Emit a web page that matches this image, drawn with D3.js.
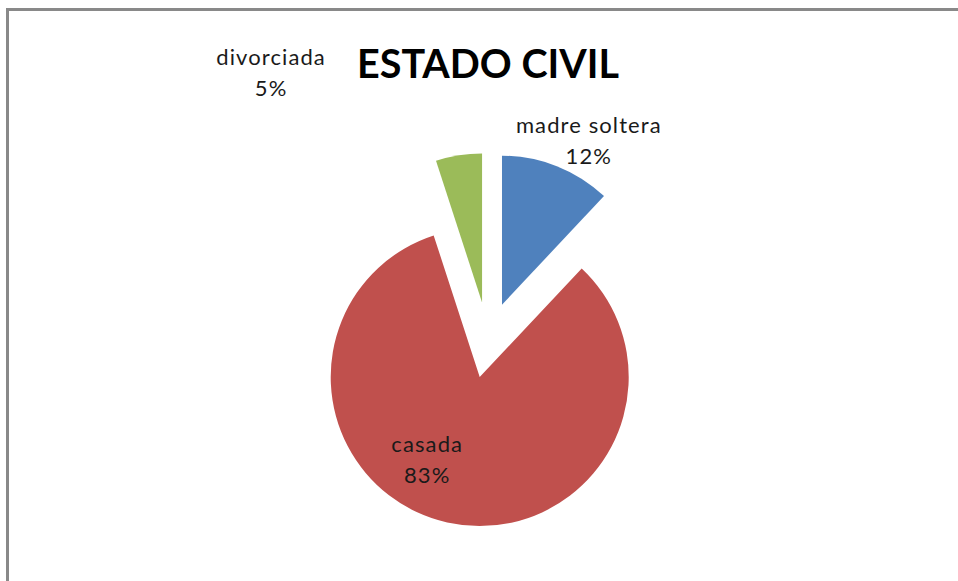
<!DOCTYPE html>
<html>
<head>
<meta charset="utf-8">
<script src="https://cdn.jsdelivr.net/npm/d3@7"></script>
<style>
  html, body { margin: 0; padding: 0; background: #fff; overflow: hidden; }
</style>
</head>
<body>
<div id="chart"></div>
<script>
//Chart Data
const categories = ["madre soltera", "casada", "divorciada"];
const percentages = [12, 83, 5];
const chartTitle = "ESTADO CIVIL";

//Chart Variables and Constants
const width = 958;
const height = 581;
const center = { x: 488, y: 340 };
const radius = 149;
const explode = 38;
const colors = ["#4F81BD", "#C0504D", "#9BBB59"];
const fontFamily = "Lato, 'Open Sans', sans-serif";

//Label placement (angle in degrees from 12 o'clock, distance from pie center)
const labelAngles = [26.0, 208.6, -38.3];
const labelDists = [230, 127, 350];

const svg = d3
  .select("#chart")
  .append("svg")
  .attr("width", width)
  .attr("height", height);

//Frame (only top and left edges are visible in the crop)
svg
  .append("rect")
  .attr("x", 7.5)
  .attr("y", 9.5)
  .attr("width", width + 50)
  .attr("height", height + 50)
  .attr("fill", "#fff")
  .attr("stroke", "#898989")
  .attr("stroke-width", 3);

//Chart Title
svg
  .append("text")
  .attr("x", 488)
  .attr("y", 78)
  .attr("text-anchor", "middle")
  .attr("font-family", fontFamily)
  .attr("font-size", "41px")
  .attr("font-weight", "bold")
  .attr("fill", "#000")
  .attr("textLength", 262)
  .attr("lengthAdjust", "spacingAndGlyphs")
  .text(chartTitle);

//Pie data
const pieData = categories.map((category, i) => ({
  category,
  value: percentages[i],
  color: colors[i],
  labelAngle: labelAngles[i],
  labelDist: labelDists[i],
}));

const pie = d3.pie().sort(null).value((d) => d.value);
const arc = d3.arc().innerRadius(0).outerRadius(radius);

const chartGroup = svg
  .append("g")
  .attr("transform", `translate(${center.x}, ${center.y})`);

//Exploded slices
chartGroup
  .selectAll("path")
  .data(pie(pieData))
  .enter()
  .append("path")
  .attr("d", arc)
  .attr("fill", (d) => d.data.color)
  .attr("transform", (d) => {
    const mid = (d.startAngle + d.endAngle) / 2;
    return `translate(${explode * Math.sin(mid)}, ${-explode * Math.cos(mid)})`;
  });

//Data labels
const labels = chartGroup
  .selectAll(".label")
  .data(pie(pieData))
  .enter()
  .append("text")
  .attr("class", "label")
  .attr("text-anchor", "middle")
  .attr("font-family", fontFamily)
  .attr("font-size", "22px")
  .attr("letter-spacing", "1.1px")
  .attr("fill", "#1a1a1a")
  .attr("transform", (d) => {
    const a = (d.data.labelAngle * Math.PI) / 180;
    return `translate(${d.data.labelDist * Math.sin(a)}, ${-d.data.labelDist * Math.cos(a)})`;
  });

labels
  .append("tspan")
  .attr("x", 0)
  .attr("y", 0)
  .text((d) => d.data.category);

labels
  .append("tspan")
  .attr("x", 0)
  .attr("y", 31)
  .text((d) => `${d.data.value}%`);
</script>
</body>
</html>
